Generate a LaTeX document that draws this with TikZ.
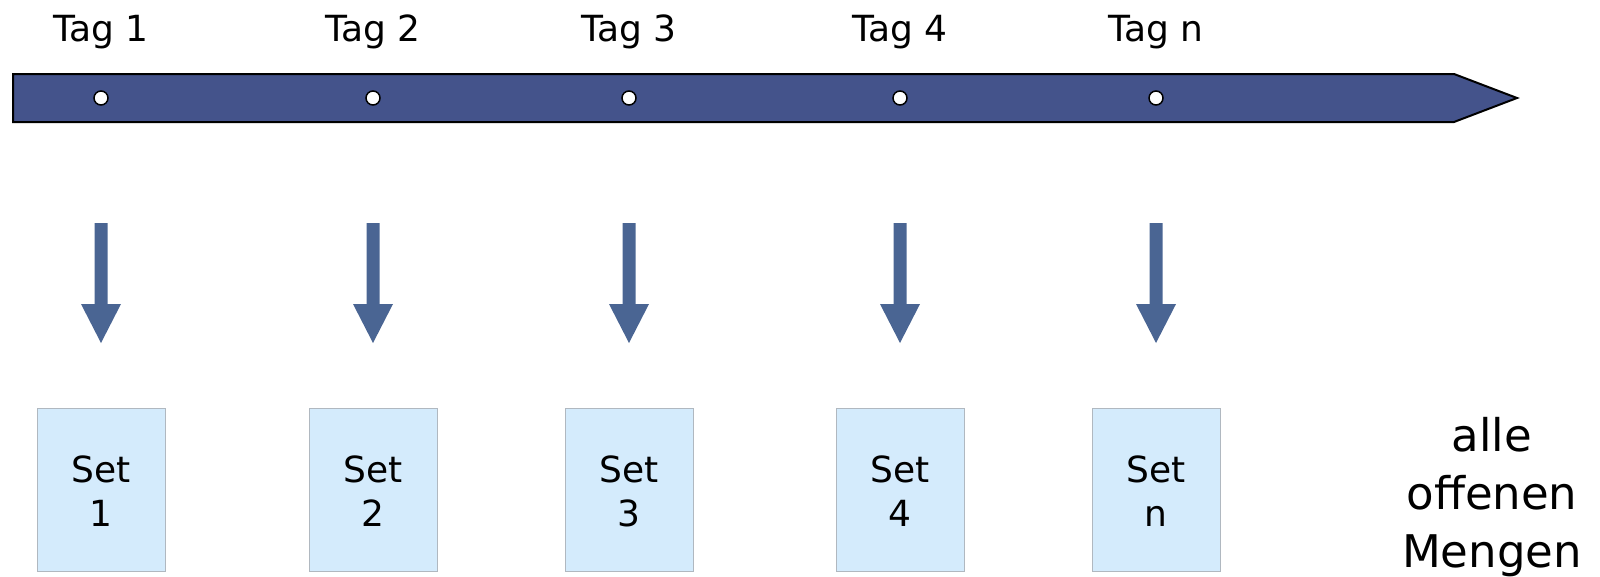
\documentclass[tikz,border=0pt]{standalone}
\usepackage{fontspec}
\setmainfont{DejaVu Sans}
\definecolor{barblue}{RGB}{68,83,139}
\definecolor{arrblue}{RGB}{74,101,147}
\definecolor{boxfill}{RGB}{212,235,252}
\definecolor{boxline}{RGB}{176,184,192}
\begin{document}
\begin{tikzpicture}[x=1pt,y=-1pt,
  taglabel/.style={font=\fontsize{36}{44}\selectfont, inner sep=0pt},
  dot/.style={circle, draw=black, fill=white, line width=1.5pt, minimum size=14pt, inner sep=0pt},
  setbox/.style={draw=boxline, fill=boxfill, line width=1pt, minimum width=128pt, minimum height=163pt, inner sep=0pt},
  settext/.style={align=center, inner sep=0pt, font=\fontsize{36}{44}\selectfont},
  downarrow/.style={fill=arrblue}
]
\useasboundingbox (0,0) rectangle (1600,576);
% timeline bar
\draw[fill=barblue, line width=2pt, line join=miter] (13,74) -- (1454,74) -- (1517,98) -- (1454,122) -- (13,122) -- cycle;
\foreach \x/\t [count=\i] in {101/1,373/2,629/3,900/4,1156/n}{
  \node[taglabel] (tag\i) at (\x,32) {Tag \t};
  \node[dot] (d\i) at (\x,98) {};
  \fill[downarrow] (\x-6.5,223) -- (\x+6.5,223) -- (\x+6.5,304) -- (\x+20,304) -- (\x,343) -- (\x-20,304) -- (\x-6.5,304) -- cycle;
  \node[setbox] (s\i) at (\x,489.5) {};
  \node[settext] (st\i) at (\x,491.5) {Set\\\t};
}
\node[font=\fontsize{45}{58}\selectfont, align=center, inner sep=0pt] (alle) at (1492,497) {alle\\offenen\\Mengen};
\end{tikzpicture}
\end{document}
